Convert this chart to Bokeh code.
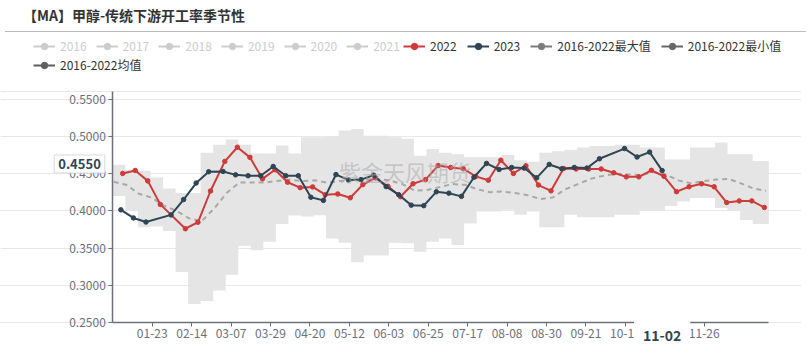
import pandas as pd
from bokeh.plotting import figure
from bokeh.models import (Range1d, FixedTicker, NumeralTickFormatter, Legend,
                          LegendItem, Label, Div)
from bokeh.layouts import column
from bokeh.embed import file_html
from bokeh.resources import INLINE

FONT = "Noto Sans CJK SC"

title_text = "【MA】甲醇-传统下游开工率季节性"
watermark_text = "紫金天风期货"
x_pointer_text = "11-02"
y_pointer_value = 0.4550

# category axis: month-day labels of a full (leap) year
days = pd.date_range("2020-01-01", "2020-12-31", freq="D").strftime("%m-%d").tolist()
pos = {d: i for i, d in enumerate(days)}

x_tick_labels = ["01-23", "02-14", "03-07", "03-29", "04-20", "05-12", "06-03",
                 "06-25", "07-17", "08-08", "08-30", "09-21", "10-13", "11-04", "11-26"]
y_ticks = [0.25, 0.30, 0.35, 0.40, 0.45, 0.50, 0.55]
y_min, y_max = 0.25, 0.5604

hidden_years = ["2016", "2017", "2018", "2019", "2020", "2021"]

# 2022
r_dates = ["01-06", "01-13", "01-20", "01-27", "02-10", "02-17", "02-24", "03-03", "03-10", "03-17",
           "03-24", "03-31", "04-07", "04-14", "04-21", "04-28", "05-05", "05-12", "05-19", "05-26",
           "06-02", "06-09", "06-16", "06-23", "06-30", "07-07", "07-14", "07-21", "07-28", "08-04",
           "08-11", "08-18", "08-25", "09-01", "09-08", "09-15", "09-22", "09-29", "10-06", "10-13",
           "10-20", "10-27", "11-03", "11-10", "11-17", "11-24", "12-01", "12-08", "12-15", "12-22",
           "12-29"]
r_vals = [0.4503, 0.4543, 0.4403, 0.4087, 0.3760, 0.3847, 0.4267, 0.4665, 0.4855, 0.4719,
          0.4430, 0.4552, 0.4385, 0.4312, 0.4322, 0.4217, 0.4227, 0.4176, 0.4353, 0.4444,
          0.4331, 0.4190, 0.4364, 0.4420, 0.4609, 0.4583, 0.4566, 0.4463, 0.4412, 0.4681,
          0.4503, 0.4606, 0.4347, 0.4269, 0.4570, 0.4563, 0.4563, 0.4563, 0.4512, 0.4457,
          0.4457, 0.4545, 0.4465, 0.4258, 0.4324, 0.4364, 0.4324, 0.4112, 0.4134, 0.4134,
          0.4046]

# 2023
n_dates = ["01-05", "01-12", "01-19", "02-02", "02-09", "02-16", "02-23", "03-02", "03-09", "03-16",
           "03-23", "03-30", "04-06", "04-13", "04-20", "04-27", "05-04", "05-11", "05-18", "05-25",
           "06-01", "06-08", "06-15", "06-22", "06-29", "07-06", "07-13", "07-20", "07-27", "08-03",
           "08-10", "08-17", "08-24", "08-31", "09-07", "09-14", "09-21", "09-28", "10-12", "10-19",
           "10-26", "11-02"]
n_vals = [0.4014, 0.3905, 0.3850, 0.3946, 0.4152, 0.4374, 0.4526, 0.4530, 0.4484, 0.4472,
          0.4472, 0.4597, 0.4472, 0.4472, 0.4184, 0.4141, 0.4488, 0.4416, 0.4420, 0.4480,
          0.4326, 0.4218, 0.4077, 0.4070, 0.4256, 0.4238, 0.4195, 0.4452, 0.4638, 0.4556,
          0.4583, 0.4575, 0.4444, 0.4624, 0.4566, 0.4583, 0.4575, 0.4700, 0.4837, 0.4724,
          0.4790, 0.4541]

# 2016-2022 weekly max / min / mean
band_dates = days[::7]
band_max = [0.462, 0.455, 0.454, 0.445, 0.430, 0.424, 0.424, 0.478, 0.489, 0.496,
            0.489, 0.477, 0.477, 0.488, 0.477, 0.499, 0.499, 0.500, 0.508, 0.510,
            0.501, 0.501, 0.499, 0.497, 0.474, 0.483, 0.478, 0.476, 0.472, 0.472,
            0.472, 0.475, 0.468, 0.466, 0.478, 0.480, 0.482, 0.485, 0.487, 0.487,
            0.489, 0.489, 0.485, 0.485, 0.469, 0.469, 0.485, 0.485, 0.492, 0.476,
            0.476, 0.467, 0.467]
band_min = [0.420, 0.400, 0.378, 0.379, 0.373, 0.318, 0.275, 0.279, 0.293, 0.314,
            0.353, 0.347, 0.3585, 0.3824, 0.3937, 0.3923, 0.394, 0.363, 0.357, 0.331,
            0.340, 0.340, 0.357, 0.3565, 0.345, 0.3585, 0.363, 0.354, 0.383, 0.399,
            0.399, 0.4015, 0.3947, 0.399, 0.378, 0.378, 0.3947, 0.3915, 0.3915, 0.3915,
            0.3947, 0.3947, 0.4006, 0.4006, 0.4065, 0.4127, 0.4172, 0.4172, 0.4037, 0.400,
            0.3878, 0.3824, 0.3824]
band_mean = [0.439, 0.435, 0.423, 0.418, 0.407, 0.400, 0.390, 0.386, 0.403, 0.424,
             0.438, 0.438, 0.438, 0.440, 0.442, 0.440, 0.441, 0.438, 0.440, 0.441,
             0.442, 0.443, 0.441, 0.436, 0.427, 0.428, 0.432, 0.436, 0.435, 0.429,
             0.425, 0.426, 0.424, 0.421, 0.416, 0.418, 0.429, 0.436, 0.443, 0.447,
             0.450, 0.449, 0.448, 0.452, 0.449, 0.441, 0.437, 0.440, 0.442, 0.443,
             0.437, 0.430, 0.427]

RED = "#cf3a3a"
NAVY = "#2f4554"
AXIS = "#6E7079"

# ---- layout (page pixels) ----
FIG_X, FIG_Y, FIG_W, FIG_H = 0, 35, 801, 316
PLOT_L, PLOT_R, PLOT_T, PLOT_B = 112.3, 768.3, 89.0, 320.0
sx = (PLOT_R - PLOT_L) / len(days)
sy = (PLOT_B - PLOT_T) / (y_max - y_min)
x_lo = (FIG_X - PLOT_L) / sx
x_hi = (FIG_X + FIG_W - PLOT_L) / sx
y_lo = y_min + (PLOT_B - (FIG_Y + FIG_H)) / sy
y_hi = y_min + (PLOT_B - FIG_Y) / sy
FRAME_BOTTOM = FIG_Y + FIG_H
LEG_X, LEG_X2, LEG_ROW1, LEG_ROW2, LEG_H = 33, 403, 44, 63, 16


def xc(dates):
    return [pos[d] + 0.5 for d in dates]


p = figure(width=FIG_W, height=FIG_H, output_backend="svg", toolbar_location=None, title=None,
           x_range=Range1d(x_lo, x_hi), y_range=Range1d(y_lo, y_hi),
           min_border_left=0, min_border_right=0, min_border_top=0, min_border_bottom=0)
p.outline_line_color = None
p.background_fill_color = "white"
p.border_fill_color = "white"

# band (max/min) as step area
bx = [pos[d] for d in band_dates] + [len(days)]
p.varea_step(x=bx, y1=band_min + band_min[-1:], y2=band_max + band_max[-1:],
             step_mode="after", fill_color="#e5e5e5")

p.line(xc(band_dates), band_mean, line_color="#a9a9a9", line_width=2, line_dash="5 4")

p.line(xc(r_dates), r_vals, line_color=RED, line_width=2)
p.scatter(xc(r_dates), r_vals, size=4.5, fill_color=RED, line_color=RED)
p.line(xc(n_dates), n_vals, line_color=NAVY, line_width=2)
p.scatter(xc(n_dates), n_vals, size=4.5, fill_color=NAVY, line_color=NAVY)

# grid
p.xgrid.visible = False
p.ygrid.ticker = FixedTicker(ticks=y_ticks + [y_max])
p.ygrid.bounds = (0, len(days))
p.ygrid.grid_line_color = "#e8e8e8"

# axes fixed on the data area
xt = [pos[d] for d in x_tick_labels]
p.xaxis.ticker = FixedTicker(ticks=xt)
p.xaxis.major_label_overrides = {t: d for t, d in zip(xt, x_tick_labels)}
p.xaxis.fixed_location = y_min
p.xaxis.bounds = (0, len(days))
p.yaxis.ticker = FixedTicker(ticks=y_ticks)
p.yaxis.formatter = NumeralTickFormatter(format="0.0000")
p.yaxis.fixed_location = 0
p.yaxis.bounds = (y_min, y_max)
for ax in (p.xaxis[0], p.yaxis[0]):
    ax.axis_line_color = AXIS
    ax.axis_line_width = 1.5
    ax.major_tick_line_color = AXIS
    ax.major_tick_out = 4
    ax.major_tick_in = 0
    ax.minor_tick_out = 0
    ax.minor_tick_in = 0
    ax.major_label_text_color = AXIS
    ax.major_label_text_font = FONT
    ax.major_label_text_font_size = "12px"
p.xaxis.major_label_standoff = 2
p.yaxis.major_label_standoff = 3

# watermark
p.add_layout(Label(x=163, y=0.4535, text=watermark_text, text_align="center",
                   text_baseline="middle", text_font=FONT, text_font_size="22px",
                   text_color="#aaaaaa", text_alpha=0.55))

# axis-pointer labels
p.add_layout(Label(x=pos[x_pointer_text] + 0.5, y=y_min, y_offset=-13, text=x_pointer_text,
                   text_align="center", text_baseline="middle", text_font=FONT,
                   text_font_size="14px", text_font_style="bold", text_color=NAVY,
                   background_fill_color="white", padding=9))
p.add_layout(Label(x=0, y=y_pointer_value, x_offset=-8, y_offset=6,
                   text=f"{y_pointer_value:.4f}",
                   text_align="right", text_baseline="middle", text_font=FONT,
                   text_font_size="13px", text_font_style="bold", text_color=NAVY,
                   background_fill_color="white", border_line_color="#d9d9d9", padding=4))


# legend-only entries (a single empty point, so nothing shows in the plot area)
def icon(color):
    nan = float("nan")
    ln = p.line(x=[nan], y=[nan], line_color=color, line_width=2)
    sc = p.scatter(x=[nan], y=[nan], size=8, fill_color=color, line_color=color)
    return [ln, sc]


leg_common = dict(orientation="horizontal", glyph_width=22, glyph_height=LEG_H,
                  label_height=LEG_H, label_standoff=5, padding=0, margin=0,
                  label_text_font=FONT, label_text_font_size="12px",
                  border_line_alpha=0, background_fill_alpha=0)

legend_hidden = Legend(items=[LegendItem(label=y, renderers=icon("#cccccc")) for y in hidden_years],
                       location=(LEG_X - FIG_X, FRAME_BOTTOM - LEG_ROW1 - LEG_H / 2),
                       label_text_color="#cccccc", spacing=9, **leg_common)
legend_main = Legend(items=[LegendItem(label="2022", renderers=icon(RED)),
                            LegendItem(label="2023", renderers=icon(NAVY)),
                            LegendItem(label="2016-2022最大值", renderers=icon("#7b7b7b")),
                            LegendItem(label="2016-2022最小值", renderers=icon("#666666"))],
                     location=(LEG_X2 - FIG_X, FRAME_BOTTOM - LEG_ROW1 - LEG_H / 2),
                     label_text_color="#333333", spacing=10, **leg_common)
legend_mean = Legend(items=[LegendItem(label="2016-2022均值", renderers=icon("#5f5f5f"))],
                     location=(LEG_X - FIG_X, FRAME_BOTTOM - LEG_ROW2 - LEG_H / 2),
                     label_text_color="#333333", spacing=10, **leg_common)
for lg in (legend_hidden, legend_main, legend_mean):
    p.add_layout(lg, "center")

title = Div(text=(f'<div style="font-family:\'{FONT}\';font-weight:bold;font-size:14px;'
                  f'color:#333;line-height:20px;height:26px;padding-left:18px;'
                  f'border-bottom:1px solid #bbbbbb;box-sizing:content-box;width:783px;">'
                  f'{title_text}</div>'),
            width=801, height=27)

layout = column(title, p, spacing=0)
open("out.html", "w").write(file_html(layout, INLINE))
